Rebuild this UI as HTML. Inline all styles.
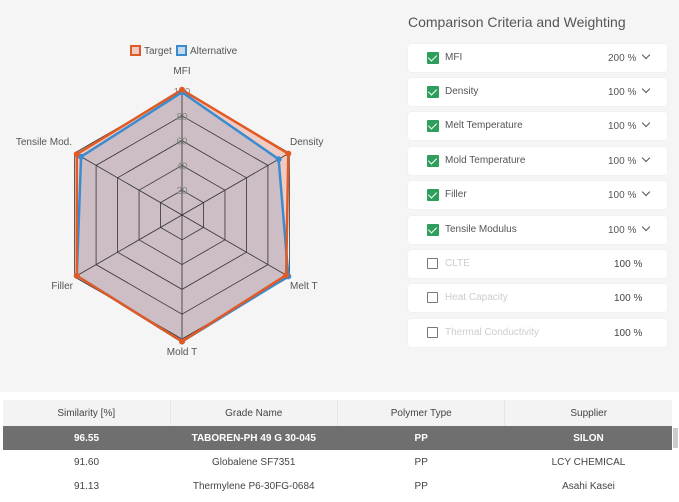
<!DOCTYPE html><html><head><style>
body{margin:0;width:679px;height:502px;background:#f5f5f5;font-family:"Liberation Sans",sans-serif;position:relative;overflow:hidden}
.t{position:absolute;left:408px;top:14px;font-size:14px;color:#555}
.c{position:absolute;left:408px;width:259px;height:28px;background:#fff;border-radius:3px;box-shadow:0 0 1px #ddd}
.cb{position:absolute;left:19px;top:8px;width:12px;height:12px;background:#2e9e5b;border-radius:1px}
.cb:after{content:"";position:absolute;left:3px;top:1px;width:4px;height:7px;border:solid #fff;border-width:0 1.5px 1.5px 0;transform:rotate(45deg)}
.cb.o{background:#fff;border:1.5px solid #777;width:9px;height:9px}
.cb.o:after{display:none}
.l{position:absolute;left:37px;top:8px;font-size:10px;color:#555}
.o2{color:#ccc}
.p{position:absolute;left:200px;top:9px;font-size:10px;color:#555}
.p2{left:206px;color:#444}
.ch{position:absolute;left:235px;top:8px;width:5px;height:5px;border:solid #555;border-width:0 1.3px 1.3px 0;transform:rotate(45deg)}
table{position:absolute;left:3px;top:400px;width:669px;border-collapse:collapse;background:#fff;font-size:10px;color:#444;table-layout:fixed}
td,th{text-align:center;height:24px;padding:0;font-weight:normal;width:25%}
th{height:26px;background:#f3f3f3;border-right:1px solid #e6e6e6}
tr.s td{background:#6f6f6f;color:#fff;font-weight:bold}
</style></head><body>
<div style="position:absolute;left:0;top:392px;width:679px;height:110px;background:#fff"></div>
<svg id="r" width="400" height="380" style="position:absolute;left:0;top:0" font-family="Liberation Sans" font-size="10"></svg>
<div class="t">Comparison Criteria and Weighting</div>
<div class="c" style="top:44px"><div class="cb"></div><div class="l">MFI</div><div class="p">200 %</div><div class="ch"></div></div>
<div class="c" style="top:78px"><div class="cb"></div><div class="l">Density</div><div class="p">100 %</div><div class="ch"></div></div>
<div class="c" style="top:112px"><div class="cb"></div><div class="l">Melt Temperature</div><div class="p">100 %</div><div class="ch"></div></div>
<div class="c" style="top:147px"><div class="cb"></div><div class="l">Mold Temperature</div><div class="p">100 %</div><div class="ch"></div></div>
<div class="c" style="top:181px"><div class="cb"></div><div class="l">Filler</div><div class="p">100 %</div><div class="ch"></div></div>
<div class="c" style="top:216px"><div class="cb"></div><div class="l">Tensile Modulus</div><div class="p">100 %</div><div class="ch"></div></div>
<div class="c" style="top:250px"><div class="cb o"></div><div class="l o2">CLTE</div><div class="p p2">100 %</div></div>
<div class="c" style="top:284px"><div class="cb o"></div><div class="l o2">Heat Capacity</div><div class="p p2">100 %</div></div>
<div class="c" style="top:319px"><div class="cb o"></div><div class="l o2">Thermal Conductivity</div><div class="p p2">100 %</div></div>
<table><tr><th>Similarity [%]</th><th>Grade Name</th><th>Polymer Type</th><th style="border:0">Supplier</th></tr>
<tr class="s"><td>96.55</td><td>TABOREN-PH 49 G 30-045</td><td>PP</td><td>SILON</td></tr>
<tr><td>91.60</td><td>Globalene SF7351</td><td>PP</td><td>LCY CHEMICAL</td></tr>
<tr><td>91.13</td><td>Thermylene P6-30FG-0684</td><td>PP</td><td>Asahi Kasei</td></tr></table>
<div style="position:absolute;left:673px;top:428px;width:5px;height:20px;background:#ccc"></div>
<script>
var cx=182,cy=215,R=124,s='';
function pt(i,v){var a=(-90+60*i)*Math.PI/180;return [cx+R*v/100*Math.cos(a),cy+R*v/100*Math.sin(a)];}
function poly(vals){return vals.map(function(v,i){return pt(i,v).join(',')}).join(' ');}
var T=[101,99,97,102,98,98],A=[99,90,99,102,98,94];
s+='<polygon points="'+poly(T)+'" fill="rgba(230,80,40,0.25)"/>';
s+='<polygon points="'+poly(A)+'" fill="rgba(60,140,210,0.2)"/>';
for(var k=1;k<=5;k++)s+='<polygon points="'+poly([1,1,1,1,1,1].map(function(){return k*20}))+'" fill="none" stroke="#333" stroke-width="0.8"/>';
for(var i=0;i<6;i++){var p=pt(i,100);s+='<line x1="'+cx+'" y1="'+cy+'" x2="'+p[0]+'" y2="'+p[1]+'" stroke="#333" stroke-width="0.8"/>';}
for(k=1;k<=5;k++)s+='<text x="'+cx+'" y="'+(cy-R*k*0.2+4)+'" text-anchor="middle" fill="#888">'+k*20+'</text>';
s+='<polygon points="'+poly(A)+'" fill="none" stroke="#3a8bd0" stroke-width="2.5"/>';
s+='<polygon points="'+poly(T)+'" fill="none" stroke="#e05a25" stroke-width="2.5"/>';
for(i=0;i<6;i++){var p=pt(i,A[i]);s+='<circle cx="'+p[0]+'" cy="'+p[1]+'" r="3" fill="#3a8bd0"/>';p=pt(i,T[i]);s+='<circle cx="'+p[0]+'" cy="'+p[1]+'" r="3" fill="#e05a25"/>';}
var L=[['MFI',182,74,'middle'],['Density',290,145,'start'],['Melt T',290,289,'start'],['Mold T',182,355,'middle'],['Filler',73,289,'end'],['Tensile Mod.',72,145,'end']];
L.forEach(function(l){s+='<text x="'+l[1]+'" y="'+l[2]+'" text-anchor="'+l[3]+'" fill="#555">'+l[0]+'</text>';});
s+='<rect x="131" y="46" width="9" height="9" fill="rgba(230,80,40,0.25)" stroke="#e05a25" stroke-width="2"/><text x="144" y="54" fill="#555">Target</text>';
s+='<rect x="177" y="46" width="9" height="9" fill="rgba(60,140,210,0.25)" stroke="#3a8bd0" stroke-width="2"/><text x="190" y="54" fill="#555">Alternative</text>';
document.getElementById('r').innerHTML=s;
</script></body></html>
